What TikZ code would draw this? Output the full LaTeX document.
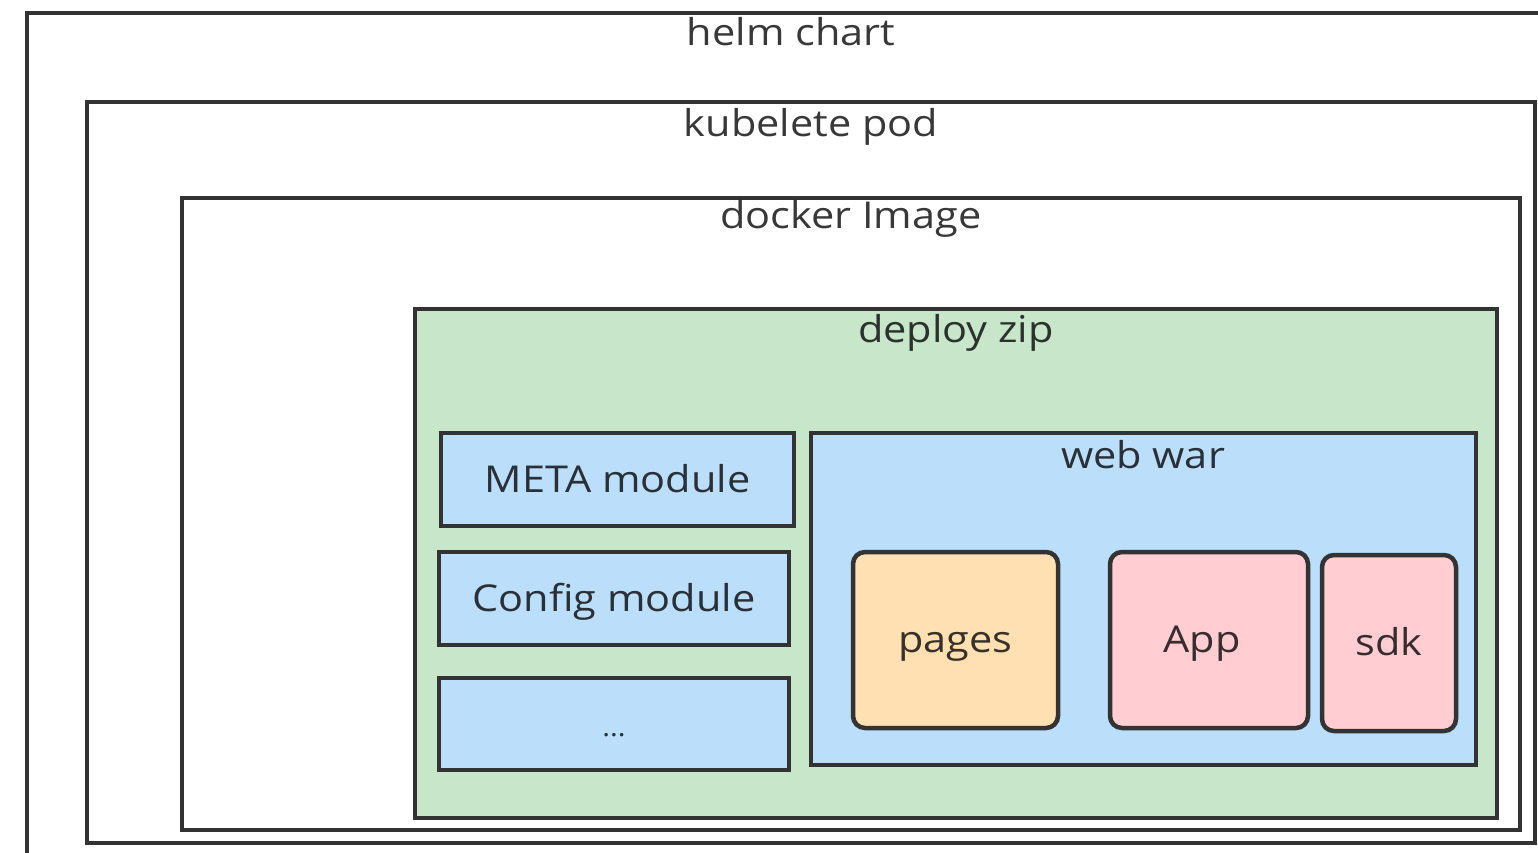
\documentclass[tikz,border=0pt]{standalone}
\usepackage{fontspec}
\setmainfont[FakeStretch=1.12]{Open Sans}
\begin{document}
\begin{tikzpicture}[x=1pt,y=-1pt,
  txt/.style={text=black,text opacity=0.78,font=\fontsize{37}{40}\selectfont},
  frame/.style={draw=linec,line width=4.5pt,rectangle,inner sep=0pt},
  title/.style={txt,anchor=base,inner sep=0pt},
  inner/.style={frame,fill=bluef,txt,text height=25pt,text depth=0pt},
  card/.style={frame,rounded corners=12pt,txt,text height=25pt,text depth=0pt}]
\definecolor{linec}{HTML}{333333}
\definecolor{greenf}{HTML}{C8E6C9}
\definecolor{bluef}{HTML}{BBDEFB}
\definecolor{orangef}{HTML}{FFE0B2}
\definecolor{pinkf}{HTML}{FFCDD2}
\useasboundingbox[fill=white] (0,0) rectangle (1538,853);
\clip (0,0) rectangle (1538,853);
% containers
\node[frame,fill=white,minimum width=1528pt,minimum height=880pt] (helm) at (791,453) {};
\node[title] (helmt) at (791,46) {helm chart};
\node[frame,fill=white,minimum width=1448pt,minimum height=741pt] (pod) at (811,472.5) {};
\node[title] (podt) at (811,137) {kubelete pod};
\node[frame,fill=white,minimum width=1338pt,minimum height=632pt] (docker) at (851,514) {};
\node[title] (dockert) at (851,228) {docker Image};
\node[frame,fill=greenf,minimum width=1082pt,minimum height=509pt] (zip) at (956,563.5) {};
\node[title] (zipt) at (956,342) {deploy zip};
% modules
\node[inner,minimum width=353pt,minimum height=93pt] (meta) at (617.5,479.5) {META module};
\node[inner,minimum width=350pt,minimum height=93pt] (config) at (614,598.5) {Config module};
\node[inner,minimum width=350pt,minimum height=92pt] (more) at (614,724) {\fontsize{26}{28}\selectfont ...};
% web war
\node[frame,fill=bluef,minimum width=665pt,minimum height=332pt] (war) at (1143.5,599) {};
\node[title] (wart) at (1143,468) {web war};
\node[card,fill=orangef,minimum width=205pt,minimum height=176pt] (pages) at (955.5,640) {pages};
\node[card,fill=pinkf,minimum width=198pt,minimum height=176pt] (app) at (1209,640) {\hspace*{-14pt}App};
\node[card,fill=pinkf,minimum width=134pt,minimum height=176pt] (sdk) at (1389,643) {sdk};
\end{tikzpicture}
\end{document}
